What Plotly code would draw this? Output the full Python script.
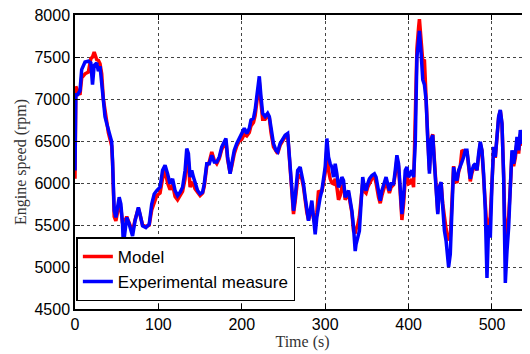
import plotly.graph_objects as go

# time stamps (s)
time_s = [0, 1, 3, 6, 8, 12, 16, 19, 21, 23, 26, 28, 30, 32, 34, 36, 38, 40, 42, 44,
          45, 47, 49, 51, 53, 55, 57, 58, 61, 62, 65, 67, 69, 72, 76, 78, 81, 85, 89, 92,
          95, 98, 102, 105, 108, 111, 114, 117, 120, 123, 126, 129, 132, 134, 136, 138, 140, 142, 144, 147,
          150, 153, 155, 158, 161, 164, 167, 170, 173, 176, 179, 181, 183, 186, 188, 191, 194, 197, 200, 203,
          206, 209, 211, 214, 216, 218, 220, 221, 223, 225, 228, 231, 233, 235, 238, 241, 243, 246, 249, 252,
          255, 257, 259, 261, 262, 264, 267, 270, 272, 274, 276, 278, 280, 282, 284, 286, 288, 290, 292, 294,
          296, 298, 300, 302, 304, 306, 308, 310, 312, 314, 316, 318, 320, 322, 324, 326, 328, 330, 332, 334,
          336, 337, 339, 341, 343, 345, 347, 349, 351, 353, 356, 359, 361, 364, 366, 368, 370, 373, 375, 377,
          379, 382, 384, 386, 388, 390, 392, 394, 396, 398, 400, 402, 404, 406, 408, 410, 412, 413, 415, 417,
          419, 421, 423, 425, 427, 429, 431, 433, 435, 437, 439, 441, 443, 445, 447, 448, 450, 452, 454, 456,
          458, 460, 462, 464, 466, 468, 470, 472, 474, 476, 478, 480, 482, 484, 486, 488, 490, 492, 494, 496,
          498, 500, 502, 504, 506, 508, 510, 512, 514, 516, 518, 520, 522, 524, 526, 528, 530, 532, 534, 536,
          538, 540, 542, 544, 546]

# engine speed, experimental measure (rpm)
measure_rpm = [6150, 7050, 7050, 7100, 7350, 7440, 7450, 7430, 7170, 7400, 7430, 7330, 7390, 7210, 6950, 6790, 6710, 6630, 6570, 6490,
               6270, 5670, 5590, 5710, 5830, 5750, 5510, 5260, 5550, 5590, 5510, 5450, 5370, 5550, 5710, 5630, 5490, 5470, 5510, 5750,
               5870, 5910, 5950, 6150, 6210, 6110, 5990, 6050, 5910, 5850, 5890, 5950, 6150, 6410, 6350, 6070, 6150, 6070, 5990, 5910,
               5870, 5890, 5990, 6230, 6230, 6330, 6250, 6250, 6310, 6430, 6490, 6530, 6310, 6110, 6230, 6390, 6470, 6530, 6570, 6650,
               6590, 6650, 6750, 6770, 6870, 7030, 7190, 7270, 7030, 6830, 6790, 6830, 6790, 6630, 6470, 6390, 6370, 6470, 6530, 6570,
               6590, 6350, 6150, 5910, 5670, 5830, 6150, 6190, 6110, 5990, 5830, 5670, 5550, 5670, 5790, 5590, 5390, 5590, 5750, 5830,
               5910, 6030, 6190, 6530, 6310, 6230, 6190, 6070, 6230, 6110, 5950, 5990, 6070, 6030, 5830, 5870, 5910, 5790, 5670, 5470,
               5190, 5270, 5350, 5430, 5750, 6070, 5950, 5910, 5990, 6050, 6090, 6110, 6070, 5910, 5790, 5910, 5990, 6070, 5990, 5910,
               5990, 5990, 6150, 6330, 6230, 5830, 5630, 5830, 6150, 6190, 6070, 6110, 6150, 6070, 6470, 7500, 7750, 7810, 7550, 7230,
               7170, 6990, 6510, 6110, 6510, 6570, 6230, 5830, 5630, 5950, 6010, 5710, 5430, 5310, 5050, 5000, 5150, 5830, 6190, 6070,
               6030, 6150, 6190, 6250, 6310, 6390, 6390, 6190, 6050, 6150, 6210, 6230, 6150, 6350, 6490, 6390, 6110, 5670, 4870, 5500,
               5350, 5990, 6430, 6310, 6550, 6790, 6870, 6710, 6070, 4810, 5190, 5470, 5950, 6390, 6230, 6350, 6550, 6390, 6630, 6470,
               6510, 6610, 6590, 6470, 6550]

# engine speed, model (rpm)
model_rpm = [6050, 7150, 7100, 7050, 7250, 7300, 7320, 7480, 7500, 7560, 7470, 7460, 7420, 7300, 7000, 6850, 6720, 6600, 6520, 6440,
             6250, 5600, 5550, 5650, 5750, 5700, 5520, 5560, 5570, 5600, 5520, 5470, 5420, 5560, 5700, 5620, 5500, 5480, 5500, 5680,
             5780, 5850, 5880, 6050, 6150, 6000, 5920, 5980, 5840, 5800, 5850, 5900, 6050, 6300, 6250, 5950, 6000, 5980, 5930, 5880,
             5850, 5880, 5960, 6200, 6250, 6370, 6270, 6230, 6290, 6400, 6450, 6500, 6280, 6120, 6200, 6350, 6440, 6500, 6520, 6580,
             6560, 6600, 6680, 6720, 6800, 6950, 7100, 7200, 6950, 6760, 6760, 6800, 6780, 6600, 6430, 6380, 6350, 6450, 6510, 6550,
             6580, 6340, 6100, 5850, 5630, 5780, 6050, 6100, 6050, 5950, 5780, 5650, 5560, 5640, 5720, 5580, 5510, 5650, 5910, 5880,
             5900, 6000, 6120, 6400, 6150, 6050, 6000, 5990, 6050, 5950, 5800, 5850, 5950, 5980, 5800, 5850, 5880, 5760, 5650, 5430,
             5400, 5450, 5500, 5600, 5800, 6000, 5900, 5880, 5950, 6000, 6050, 6080, 6000, 5830, 5760, 5850, 5930, 6020, 5950, 5880,
             5950, 5980, 6100, 6280, 6200, 5800, 5560, 5750, 6050, 6100, 5990, 6000, 6050, 5950, 6700, 7600, 7850, 7950, 7700, 7450,
             7470, 7100, 6550, 6150, 6520, 6580, 6250, 5850, 5650, 5960, 6000, 5750, 5550, 5450, 5350, 5320, 5350, 5900, 6200, 6050,
             6000, 6130, 6200, 6390, 6370, 6360, 6380, 6170, 6020, 6120, 6180, 6200, 6150, 6320, 6470, 6380, 6000, 5750, 5450, 5500,
             5600, 6050, 6420, 6300, 6520, 6780, 6860, 6700, 6100, 5250, 5450, 5600, 5950, 6350, 6200, 6300, 6480, 6350, 6580, 6450,
             6470, 6560, 6550, 6450, 6520]

x_ticks = [0, 100, 200, 300, 400, 500]
y_ticks = [4500, 5000, 5500, 6000, 6500, 7000, 7500, 8000]

fig = go.Figure()
fig.add_trace(go.Scatter(x=time_s, y=model_rpm, mode="lines", name="Model",
                         legendgroup="m", line=dict(color="#ff0000", width=3.5)))
fig.add_trace(go.Scatter(x=time_s, y=measure_rpm, mode="lines", name="Experimental measure",
                         legendgroup="e", line=dict(color="#0000ff", width=3.5)))

axis_common = dict(
    showline=True, linecolor="black", linewidth=1.5,
    ticks="inside", ticklen=5, tickcolor="black",
    showgrid=True, gridcolor="#444", griddash="dot", gridwidth=1,
    zeroline=False, automargin=False, ticklabeloverflow="allow",
    tickfont=dict(family="Liberation Sans, Arial", size=16, color="black"),
)

# page body adds ~8px offset, so the figure is a bit smaller than the window
fig.update_layout(
    width=522, height=346,
    margin=dict(l=67, r=0, t=7, b=45),
    plot_bgcolor="white", paper_bgcolor="white",
    xaxis=dict(axis_common, range=[0, 545.6], tickvals=x_ticks, mirror="ticks",
               title=dict(text="Time (s)", standoff=2,
                          font=dict(family="Liberation Serif, Times New Roman", size=16, color="#333"))),
    yaxis=dict(axis_common, range=[4500, 8000], tickvals=y_ticks,
               title=dict(text="Engine speed (rpm)", standoff=4,
                          font=dict(family="Liberation Serif, Times New Roman", size=16, color="#333"))),
    legend=dict(
        x=0.003, y=0.026, xanchor="left", yanchor="bottom",
        bgcolor="white", bordercolor="black", borderwidth=1.5,
        font=dict(family="Liberation Sans, Arial", size=17, color="black"),
        traceorder="grouped", tracegroupgap=0,
    ),
)

fig.write_html("out.html")
